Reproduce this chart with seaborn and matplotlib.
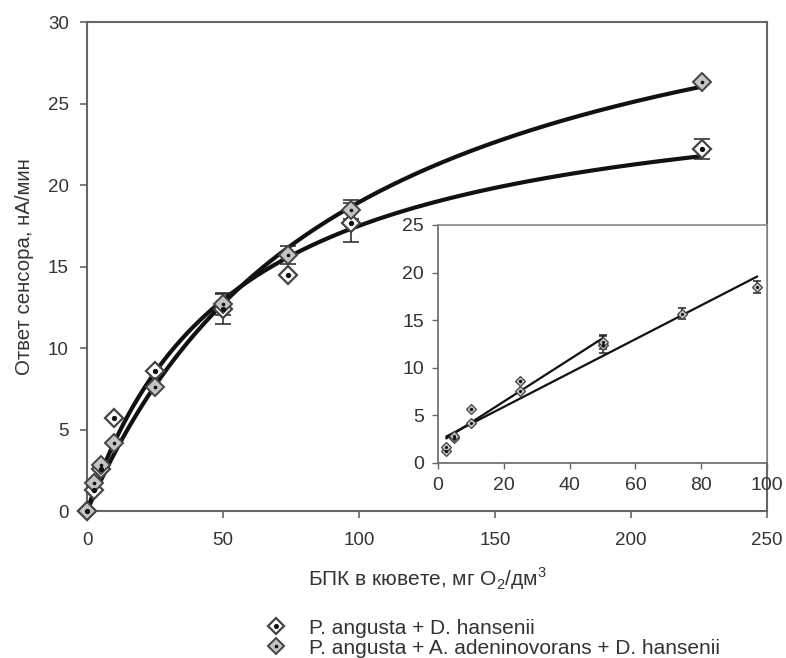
import numpy as np
import pandas as pd
import matplotlib
matplotlib.use("Agg")
import matplotlib.pyplot as plt
from matplotlib.lines import Line2D
import seaborn as sns

# BOD in cuvette, mg O2/dm3
bpk = [0, 2.5, 5, 10, 25, 50, 74, 97, 226]
# P. angusta + D. hansenii
resp_1 = [0, 1.3, 2.6, 5.7, 8.6, 12.4, 14.5, 17.7, 22.2]
err_1 = [0, 0, 0, 0, 0, 0.9, 0, 1.2, 0.6]
# P. angusta + A. adeninovorans + D. hansenii
resp_2 = [0, 1.7, 2.8, 4.2, 7.6, 12.7, 15.7, 18.5, 26.3]
err_2 = [0, 0, 0, 0, 0, 0.7, 0.55, 0.6, 0]

# linear range shown in the inset
lin_max_1 = 50
lin_max_2 = 97

label_1 = "P. angusta + D. hansenii"
label_2 = "P. angusta + A. adeninovorans + D. hansenii"

sns.set_style("ticks")
plt.rcParams["font.family"] = ["Liberation Sans", "DejaVu Sans"]
plt.rcParams["mathtext.fontset"] = "custom"
plt.rcParams["mathtext.rm"] = "Liberation Sans"
text_col = "#333333"
spine_col = "#666666"


def mm_fit(x, y):
    # Michaelis-Menten fit y = V*x/(K+x), grid over K, closed form for V
    x = np.asarray(x, float)
    y = np.asarray(y, float)
    best = None
    for K in np.linspace(1, 400, 4000):
        f = x / (K + x)
        V = (f * y).sum() / (f * f).sum()
        sse = ((V * f - y) ** 2).sum()
        if best is None or sse < best[0]:
            best = (sse, V, K)
    return best[1], best[2]


df = pd.DataFrame({"bpk": bpk, "r1": resp_1, "e1": err_1, "r2": resp_2, "e2": err_2})

fig = plt.figure(figsize=(7.86, 6.58), dpi=100)
ax = fig.add_axes([0.1107, 0.2234, 0.865, 0.743])

xs = np.linspace(0, max(bpk), 300)
for col in ["r1", "r2"]:
    V, K = mm_fit(df["bpk"], df[col])
    sns.lineplot(x=xs, y=V * xs / (K + xs), ax=ax, color="#111111", lw=3, zorder=2)


def draw_points(a, d, ycol, ecol, face, ms, dot_ms, ew, cap):
    sub = d[d[ecol] > 0]
    a.errorbar(sub["bpk"], sub[ycol], yerr=sub[ecol], fmt="none", ecolor="#222222",
               elinewidth=1.1, capsize=cap, capthick=1.1, zorder=3)
    a.plot(d["bpk"], d[ycol], ls="none", marker="D", ms=ms, mfc=face, mec="#444444",
           mew=ew, zorder=4, clip_on=False)
    a.plot(d["bpk"], d[ycol], ls="none", marker="o", ms=dot_ms, mfc="#111111",
           mec="#111111", zorder=5, clip_on=False)


draw_points(ax, df, "r1", "e1", "white", 9, 2.8, 1.6, 6)
draw_points(ax, df, "r2", "e2", "#c4c4c4", 9, 1.6, 1.4, 6)

ax.set_xlim(0, 250)
ax.set_ylim(0, 30)
ax.set_xticks(range(0, 251, 50))
ax.set_yticks(range(0, 31, 5))
ax.tick_params(labelsize=13.5, colors=spine_col, labelcolor=text_col, length=5, width=1.2, pad=8)
ax.tick_params(axis="x", pad=10)
for s in ax.spines.values():
    s.set_color(spine_col)
    s.set_linewidth(1.5)
ax.set_xlabel("БПК в кювете, мг O$_2$/дм$^3$", fontsize=15, color=text_col, labelpad=12)
ax.set_ylabel("Ответ сенсора, нА/мин", fontsize=14.7, color=text_col, labelpad=10)

# inset with linear range
ins = fig.add_axes([0.5573, 0.2964, 0.4186, 0.3617])
ins.set_facecolor("white")
d1 = df[(df["bpk"] > 0) & (df["bpk"] <= lin_max_1)]
d2 = df[(df["bpk"] > 0) & (df["bpk"] <= lin_max_2)]
for d, col in [(d1, "r1"), (d2, "r2")]:
    k, b = np.polyfit(d["bpk"], d[col], 1)
    xl = np.array([d["bpk"].min(), d["bpk"].max()])
    sns.lineplot(x=xl, y=k * xl + b, ax=ins, color="#111111", lw=1.6, zorder=2)
draw_points(ins, d1, "r1", "e1", "#c4c4c4", 5.5, 1.4, 0.9, 3)
draw_points(ins, d2, "r2", "e2", "#c4c4c4", 5.5, 1.2, 0.9, 3)
ins.set_xlim(0, 100)
ins.set_ylim(0, 25)
ins.set_xticks(range(0, 101, 20))
ins.set_yticks(range(0, 26, 5))
ins.tick_params(labelsize=14, colors=spine_col, labelcolor=text_col, length=4, width=1, pad=6)
for name, s in ins.spines.items():
    s.set_color("#888888" if name in ("top", "right") else spine_col)
    s.set_linewidth(1.2)

handles = [
    (Line2D([], [], ls="none", marker="D", ms=8.5, mfc="white", mec="#444444", mew=1.6),
     Line2D([], [], ls="none", marker="o", ms=2.6, mfc="#111111", mec="#111111")),
    (Line2D([], [], ls="none", marker="D", ms=8.5, mfc="#c4c4c4", mec="#444444", mew=1.4),
     Line2D([], [], ls="none", marker="o", ms=1.6, mfc="#111111", mec="#111111")),
]
fig.legend(handles, [label_1, label_2], loc="lower left", bbox_to_anchor=(0.311, -0.028),
           frameon=False, fontsize=15, labelcolor=text_col, handlelength=1.2,
           handletextpad=1.0, labelspacing=0.05)

fig.savefig("out.png", dpi=100)
